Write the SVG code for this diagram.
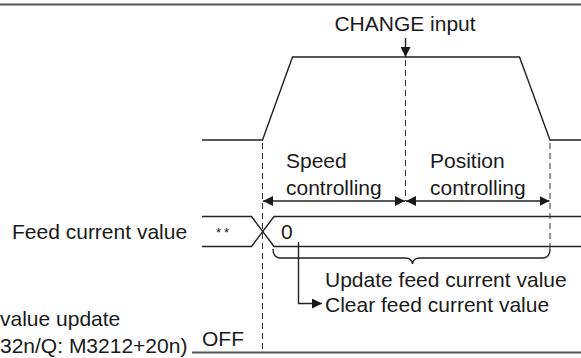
<svg xmlns="http://www.w3.org/2000/svg" width="581" height="358" viewBox="0 0 581 358">
<style>
  text { font-family: "Liberation Sans", Arial, sans-serif; font-size: 21px; fill: #1a1a1a; }
  .ln { stroke: #222; stroke-width: 1.4; fill: none; }
  .dash { stroke: #333; stroke-width: 1; stroke-dasharray: 6 4; fill: none; }
  .frame { stroke: #555; stroke-width: 2; fill: none; }
</style>
<defs>
  <marker id="ah" viewBox="0 0 10 10" refX="10" refY="5" markerWidth="10" markerHeight="10" markerUnits="userSpaceOnUse" orient="auto-start-reverse">
    <path d="M0,0 L10,5 L0,10 Z" fill="#1a1a1a"/>
  </marker>
</defs>
<rect width="581" height="358" fill="#fff"/>
<line class="frame" x1="0" y1="4.5" x2="581" y2="4.5"/>

<g id="change-input">
  <text x="405" y="31" text-anchor="middle">CHANGE input</text>
</g>

<g id="speed-signal">
  <path class="ln" d="M202,140 L262.5,140 L292.5,57 L519.5,57 L550,140 L581,140"/>
</g>

<g id="speed-label">
  <text x="286" y="168">Speed</text>
  <text x="286" y="195">controlling</text>
</g>
<g id="position-label">
  <text x="430" y="168">Position</text>
  <text x="430" y="195">controlling</text>
</g>

<g id="feed-current-value">
  <text x="12" y="239">Feed current value</text>
  <path class="ln" d="M202,216.5 L251.5,216.5 L274,246.5 L581,246.5"/>
  <path class="ln" d="M202,246.5 L251.5,246.5 L274,216.5 L581,216.5"/>
  <text x="216" y="237" style="font-size:13px;letter-spacing:3px">**</text>
  <text x="281" y="239">0</text>
</g>

<g id="update-label">
  <text x="325" y="287">Update feed current value</text>
</g>
<g id="clear-label">
  <text x="325" y="312">Clear feed current value</text>
</g>

<g id="update-flag">
  <text x="0" y="326">value update</text>
  <text x="0" y="353">32n/Q: M3212+20n)</text>
  <text x="202" y="346">OFF</text>
  <line class="frame" x1="192" y1="352.5" x2="581" y2="352.5"/>
</g>

<g id="connectors">
  <line class="ln" x1="405.5" y1="38" x2="405.5" y2="57" marker-end="url(#ah)"/>
  <line class="dash" x1="405.5" y1="60" x2="405.5" y2="201"/>
  <line class="dash" x1="262.5" y1="143" x2="262.5" y2="351"/>
  <line class="dash" x1="550" y1="143" x2="550" y2="250"/>
  <line class="ln" x1="263" y1="201" x2="405" y2="201" marker-start="url(#ah)" marker-end="url(#ah)"/>
  <line class="ln" x1="406" y1="201" x2="549.5" y2="201" marker-start="url(#ah)" marker-end="url(#ah)"/>
  <path class="ln" stroke-width="1" d="M273,249 Q273,258 281,258 L405,258 Q412,258 412.5,264 Q413,258 420,258 L542,258 Q550,258 550,249"/>
  <path class="ln" stroke-width="1.2" d="M298.5,242 L298.5,303.5 L322,303.5" marker-end="url(#ah)"/>
</g>
</svg>
